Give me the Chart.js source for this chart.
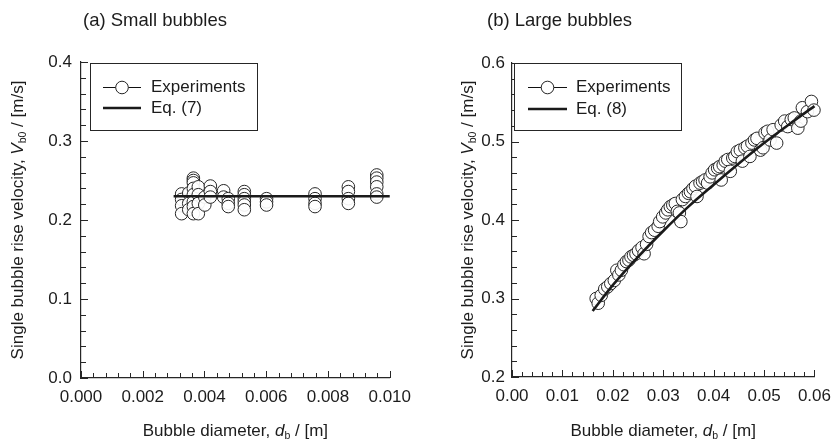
<!DOCTYPE html>
<html>
<head>
<meta charset="utf-8">
<script src="https://cdn.jsdelivr.net/npm/chart.js@4/dist/chart.umd.min.js"></script>
<style>
html,body{margin:0;padding:0;background:#fff;}
#wrap{position:relative;width:840px;height:441px;overflow:hidden;}
.pane{position:absolute;top:0;width:420px;height:441px;}
</style>
</head>
<body>
<div id="wrap">
  <div class="pane" style="left:0"><canvas id="cA" width="420" height="441"></canvas></div>
  <div class="pane" style="left:420px"><canvas id="cB" width="420" height="441"></canvas></div>
</div>
<script>
// ---------- (a) Small bubbles ----------
const smallD = [
  0.00326,0.00326,0.00326,0.00326,
  0.00349,0.00349,0.00349,
  0.00364,0.00364,0.00364,0.00364,0.00364,0.00364,0.00364,0.00364,
  0.00380,0.00380,0.00380,0.00380,
  0.00401,0.00401,
  0.00419,0.00419,0.00419,
  0.00462,0.00462,
  0.00477,0.00477,0.00477,
  0.00529,0.00529,0.00529,0.00529,0.00529,0.00529,
  0.00601,0.00601,0.00601,
  0.00758,0.00758,0.00758,0.00758,
  0.00866,0.00866,0.00866,0.00866,
  0.00958,0.00958,0.00958,0.00958,0.00958,0.00958
];
const smallV = [
  0.233,0.226,0.218,0.208,
  0.234,0.221,0.213,
  0.253,0.250,0.247,0.240,0.232,0.223,0.217,0.208,
  0.242,0.232,0.221,0.208,
  0.229,0.219,
  0.243,0.236,0.229,
  0.237,0.229,
  0.227,0.221,0.217,
  0.236,0.232,0.227,0.223,0.219,0.213,
  0.227,0.223,0.219,
  0.233,0.227,0.221,0.217,
  0.242,0.236,0.227,0.221,
  0.257,0.253,0.248,0.242,0.233,0.229
];
const smallEqD = [0.003, 0.010];
const smallEqV = [0.230, 0.230];
const smallXTicks = ["0.000","0.002","0.004","0.006","0.008","0.010"];
const smallYTicks = ["0.0","0.1","0.2","0.3","0.4"];

// ---------- (b) Large bubbles ----------
const largeD = [
  0.0167,0.0171,0.0177,0.0184,0.0190,0.0196,0.0203,0.0208,0.0212,0.0217,
  0.0222,0.0227,0.0232,0.0236,0.0241,0.0246,0.0251,0.0258,0.0262,0.0267,
  0.0272,0.0277,0.0283,0.0290,0.0293,0.0299,0.0305,0.0309,0.0314,0.0319,
  0.0324,0.0328,0.0332,0.0335,0.0338,0.0344,0.0350,0.0354,0.0359,0.0364,
  0.0367,0.0373,0.0378,0.0383,0.0388,0.0393,0.0397,0.0402,0.0408,0.0412,
  0.0415,0.0419,0.0423,0.0428,0.0433,0.0438,0.0442,0.0447,0.0453,0.0457,
  0.0462,0.0467,0.0472,0.0476,0.0481,0.0486,0.0493,0.0498,0.0502,0.0507,
  0.0512,0.0518,0.0525,0.0534,0.0541,0.0547,0.0554,0.0560,0.0567,0.0573,
  0.0576,0.0586,0.0594,0.0599
];
const largeV = [
  0.300,0.294,0.304,0.312,0.315,0.319,0.323,0.336,0.330,0.336,
  0.343,0.347,0.349,0.353,0.355,0.357,0.361,0.365,0.357,0.369,
  0.379,0.384,0.387,0.392,0.398,0.404,0.409,0.413,0.417,0.419,
  0.421,0.411,0.409,0.398,0.426,0.430,0.434,0.436,0.440,0.443,
  0.430,0.447,0.449,0.451,0.447,0.455,0.460,0.464,0.466,0.468,
  0.451,0.470,0.475,0.477,0.462,0.479,0.481,0.487,0.489,0.475,
  0.492,0.494,0.481,0.498,0.502,0.504,0.489,0.492,0.511,0.513,
  0.502,0.515,0.498,0.521,0.526,0.519,0.528,0.530,0.517,0.526,
  0.543,0.538,0.551,0.540
];
const largeEqD = [0.016,0.020,0.025,0.030,0.035,0.040,0.045,0.050,0.055,0.060];
const largeEqV = [0.284,0.317,0.353,0.386,0.417,0.445,0.472,0.498,0.522,0.545];
const largeXTicks = ["0.00","0.01","0.02","0.03","0.04","0.05","0.06"];
const largeYTicks = ["0.2","0.3","0.4","0.5","0.6"];

const FONT = '"Liberation Sans", Arial, Helvetica, sans-serif';
const TXT = '#1c1c1c';
const AX = '#262626';

function pts(xs, ys){ return xs.map((x,i)=>({x:x, y:ys[i]})); }

function drawRich(ctx, parts, size){
  let w = 0;
  const fontFor = p => (p.italic ? 'italic ' : '') + (p.sub ? size*0.62 : size) + 'px ' + FONT;
  parts.forEach(p => { ctx.font = fontFor(p); p.w = ctx.measureText(p.t).width; w += p.w; });
  let x = -w/2;
  parts.forEach(p => {
    ctx.font = fontFor(p);
    ctx.fillText(p.t, x, p.sub ? size*0.32 : 0);
    x += p.w;
  });
}

function makeDecor(cfg){
  return {
    id: 'decor',
    afterDraw(chart){
      const ctx = chart.ctx;
      const xs = chart.scales.x, ys = chart.scales.y;
      const ca = chart.chartArea;
      ctx.save();
      ctx.strokeStyle = AX; ctx.lineWidth = 1;
      const nX = Math.round((cfg.xMax - cfg.xMin)/cfg.xMinor);
      for (let i=0;i<=nX;i++){
        const v = cfg.xMin + i*cfg.xMinor;
        const px = Math.round(xs.getPixelForValue(v)) + 0.5;
        const len = (i % cfg.xEvery === 0) ? 7 : 5;
        ctx.beginPath(); ctx.moveTo(px, ca.bottom); ctx.lineTo(px, ca.bottom - len); ctx.stroke();
      }
      const nY = Math.round((cfg.yMax - cfg.yMin)/cfg.yMinor);
      for (let i=0;i<=nY;i++){
        const v = cfg.yMin + i*cfg.yMinor;
        const py = Math.round(ys.getPixelForValue(v)) + 0.5;
        const len = (i % cfg.yEvery === 0) ? 7 : 5;
        ctx.beginPath(); ctx.moveTo(ca.left, py); ctx.lineTo(ca.left + len, py); ctx.stroke();
      }
      ctx.fillStyle = TXT;
      ctx.textBaseline = 'middle';
      ctx.textAlign = 'left';
      ctx.font = '18.5px ' + FONT;
      ctx.fillText(cfg.title, cfg.titleX, 21);
      ctx.save();
      ctx.translate(cfg.yTitleX, (ca.top + ca.bottom)/2);
      ctx.rotate(-Math.PI/2);
      drawRich(ctx, [
        {t:'Single bubble rise velocity, '},
        {t:'V', italic:true},
        {t:'b0', sub:true},
        {t:' / [m/s]'}
      ], 17);
      ctx.restore();
      ctx.save();
      ctx.translate((ca.left + ca.right)/2, 431);
      drawRich(ctx, [
        {t:'Bubble diameter, '},
        {t:'d', italic:true},
        {t:'b', sub:true},
        {t:' / [m]'}
      ], 17);
      ctx.restore();
      const L = cfg.legend;
      ctx.fillStyle = '#fff';
      ctx.fillRect(L.x, L.y, L.w, L.h);
      ctx.strokeStyle = AX; ctx.lineWidth = 1;
      ctx.strokeRect(L.x + 0.5, L.y + 0.5, L.w, L.h);
      ctx.beginPath(); ctx.moveTo(L.lx0, L.y1 + 0.5); ctx.lineTo(L.lx1, L.y1 + 0.5); ctx.strokeStyle = '#111'; ctx.lineWidth = 1; ctx.stroke();
      ctx.beginPath(); ctx.arc((L.lx0+L.lx1)/2, L.y1 + 0.5, 6.3, 0, Math.PI*2);
      ctx.fillStyle = '#fff'; ctx.fill(); ctx.strokeStyle = AX; ctx.lineWidth = 1; ctx.stroke();
      ctx.beginPath(); ctx.moveTo(L.lx0, L.y2); ctx.lineTo(L.lx1, L.y2);
      ctx.strokeStyle = '#1a1a1a'; ctx.lineWidth = 2.6; ctx.stroke();
      ctx.fillStyle = TXT; ctx.font = '17px ' + FONT; ctx.textAlign = 'left'; ctx.textBaseline = 'middle';
      ctx.fillText('Experiments', L.tx, L.y1);
      ctx.fillText(cfg.eqLabel, L.tx, L.y2);
      ctx.restore();
    }
  };
}

function makeChart(id, o){
  return new Chart(document.getElementById(id), {
    type: 'scatter',
    data: {
      datasets: [
        {
          type: 'line', label: o.eqLabel, data: pts(o.eqD, o.eqV),
          borderColor: '#1a1a1a', borderWidth: 2.6, pointRadius: 0, fill: false,
          tension: 0.4, cubicInterpolationMode: 'monotone', clip: false
        },
        {
          label: 'Experiments', data: pts(o.d, o.v), clip: false,
          pointRadius: 6.3, pointBorderWidth: 1, pointBackgroundColor: 'rgba(255,255,255,0.92)',
          pointBorderColor: AX, showLine: false
        }
      ]
    },
    options: {
      responsive: false, animation: false,
      layout: { padding: { top: o.padTop, right: o.padRight, left: 0, bottom: 0 } },
      plugins: { legend: { display: false }, tooltip: { enabled: false }, title: { display: false } },
      scales: {
        x: {
          type: 'linear', min: o.xMin, max: o.xMax,
          afterFit: s => { s.height = o.xH; },
          grid: { display: false, drawTicks: false },
          border: { display: true, color: AX, width: 1.2 },
          ticks: {
            stepSize: o.xStep, padding: 9, color: TXT, font: { family: FONT, size: 17 },
            maxRotation: 0, autoSkip: false,
            callback: (v) => { const i = Math.round((v - o.xMin)/o.xStep); return o.xTicks[i]; }
          }
        },
        y: {
          type: 'linear', min: o.yMin, max: o.yMax,
          afterFit: s => { s.width = o.yW; },
          grid: { display: false, drawTicks: false },
          border: { display: true, color: AX, width: 1.2 },
          ticks: {
            stepSize: o.yStep, padding: o.yPad, color: TXT, font: { family: FONT, size: 17 },
            autoSkip: false,
            callback: (v) => { const i = Math.round((v - o.yMin)/o.yStep); return o.yTicks[i]; }
          }
        }
      }
    },
    plugins: [makeDecor(o)]
  });
}

makeChart('cA', {
  d: smallD, v: smallV, eqD: smallEqD, eqV: smallEqV, eqLabel: 'Eq. (7)',
  xMin: 0, xMax: 0.010, xStep: 0.002, xMinor: 0.0004, xEvery: 5, xTicks: smallXTicks,
  yMin: 0, yMax: 0.4, yStep: 0.1, yMinor: 0.02, yEvery: 5, yTicks: smallYTicks,
  padTop: 62, padRight: 22, xH: 63, yW: 81, yPad: 9,
  title: '(a) Small bubbles', titleX: 83, yTitleX: 18,
  legend: { x: 90, y: 63, w: 167, h: 67, lx0: 103, lx1: 141, y1: 87, y2: 108, tx: 151 }
});

makeChart('cB', {
  d: largeD, v: largeV, eqD: largeEqD, eqV: largeEqV, eqLabel: 'Eq. (8)',
  xMin: 0, xMax: 0.06, xStep: 0.01, xMinor: 0.002, xEvery: 5, xTicks: largeXTicks,
  yMin: 0.2, yMax: 0.6, yStep: 0.1, yMinor: 0.02, yEvery: 5, yTicks: largeYTicks,
  padTop: 63, padRight: 18, xH: 64, yW: 92, yPad: 7,
  title: '(b) Large bubbles', titleX: 67, yTitleX: 48,
  legend: { x: 94, y: 63, w: 167, h: 67, lx0: 108, lx1: 147, y1: 87, y2: 109, tx: 156 }
});
</script>
</body>
</html>
